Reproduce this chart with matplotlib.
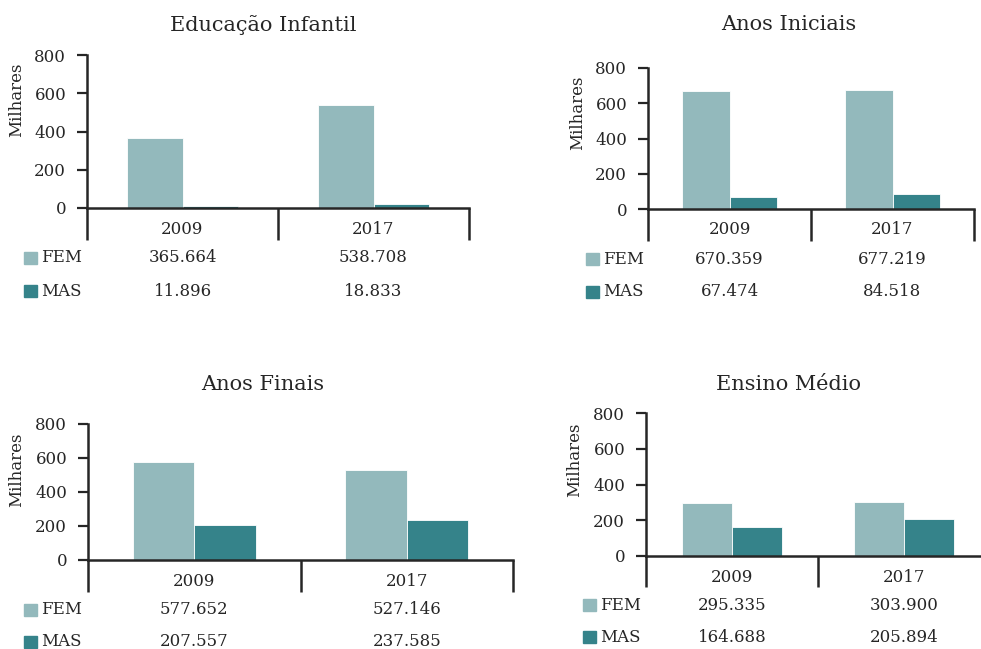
import matplotlib
matplotlib.use("Agg")
import matplotlib.pyplot as plt
import matplotlib.patches as mpatches
import matplotlib.transforms as mtransforms

W, H = 981, 649
plt.rcParams['font.family'] = ['DejaVu Serif']
TXT = '#262626'

years = ['2009', '2017']
titles = ['Educação Infantil', 'Anos Iniciais', 'Anos Finais', 'Ensino Médio']
series_names = ['FEM', 'MAS']
fem_infantil = [365.664, 538.708]
mas_infantil = [11.896, 18.833]
fem_iniciais = [670.359, 677.219]
mas_iniciais = [67.474, 84.518]
fem_finais = [577.652, 527.146]
mas_finais = [207.557, 237.585]
fem_medio = [295.335, 303.900]
mas_medio = [164.688, 205.894]
yticks = [0, 200, 400, 600, 800]
ylabel = 'Milhares'

fem_all = [fem_infantil, fem_iniciais, fem_finais, fem_medio]
mas_all = [mas_infantil, mas_iniciais, mas_finais, mas_medio]

COL_FEM = '#93b9bc'
COL_MAS = '#35838a'

# layout in pixels
panels = [
    dict(left=87, top=55, right=469, zero=208, bottom=240, fem=258, mas=291, sq=24, title=(263, 25), yl=(17, 100)),
    dict(left=648, top=68, right=974, zero=209, bottom=241, fem=259, mas=292, sq=586, title=(789, 25), yl=(578, 113)),
    dict(left=88, top=424, right=513, zero=560, bottom=592, fem=610, mas=642, sq=24, title=(263, 384), yl=(17, 470)),
    dict(left=646, top=413, right=990, zero=556, bottom=587, fem=605, mas=637, sq=583, title=(788, 384), yl=(575, 460)),
]

fig = plt.figure(figsize=(W / 100, H / 100), dpi=100)

def fx(x):
    return x / W

def fy(y):
    return 1 - y / H

bw = 0.29
for i, p in enumerate(panels):
    ax = fig.add_axes([fx(p['left']), fy(p['zero']), fx(p['right'] - p['left']), (p['zero'] - p['top']) / H])
    xs = range(len(years))
    ax.bar([x - bw / 2 for x in xs], fem_all[i], width=bw, color=COL_FEM, edgecolor='white', linewidth=0.6, zorder=2)
    ax.bar([x + bw / 2 for x in xs], mas_all[i], width=bw, color=COL_MAS, edgecolor='white', linewidth=0.6, zorder=2)
    ax.set_xlim(-0.5, len(years) - 0.5)
    ax.set_ylim(0, 800)
    ax.set_yticks(yticks)
    ax.tick_params(axis='y', length=7, width=1.6, color=TXT, labelsize=12, labelcolor=TXT, pad=8)
    ax.set_xticks(list(xs))
    ax.set_xticklabels(years)
    ax.tick_params(axis='x', length=0, labelsize=12, labelcolor=TXT, pad=9)
    for s in ['top', 'right']:
        ax.spines[s].set_visible(False)
    for s in ['left', 'bottom']:
        ax.spines[s].set_linewidth(1.8)
        ax.spines[s].set_color(TXT)
    ax.patch.set_alpha(0)
    # category divider lines extending below axis
    depth = (p['bottom'] - p['zero']) / (p['zero'] - p['top'])
    trans = mtransforms.blended_transform_factory(ax.transData, ax.transAxes)
    for xb in [-0.5 + k for k in range(len(years) + 1)]:
        ax.plot([xb, xb], [0, -depth], transform=trans, color=TXT, lw=1.8, clip_on=False, solid_capstyle='butt')
    # title and y label
    fig.text(fx(p['title'][0]), fy(p['title'][1]), titles[i], ha='center', va='center', fontsize=15, color=TXT)
    fig.text(fx(p['yl'][0]), fy(p['yl'][1]), ylabel, ha='center', va='center', rotation=90, fontsize=12, color=TXT)
    # table
    for rowy, name, col, vals in [(p['fem'], series_names[0], COL_FEM, fem_all[i]),
                                   (p['mas'], series_names[1], COL_MAS, mas_all[i])]:
        sq = 12.5
        fig.patches.append(mpatches.Rectangle((fx(p['sq']), fy(rowy + sq / 2)), sq / W, sq / H,
                                              transform=fig.transFigure, color=col, figure=fig))
        fig.text(fx(p['sq'] + 17), fy(rowy), name, ha='left', va='center', fontsize=12, color=TXT)
        ty = fy(rowy)
        for x, v in zip(xs, vals):
            xd = ax.transData.transform((x, 0))[0]
            fig.text(xd / W, ty, f'{v:.3f}', ha='center', va='center', fontsize=12, color=TXT)

fig.savefig('out.png', dpi=100)
